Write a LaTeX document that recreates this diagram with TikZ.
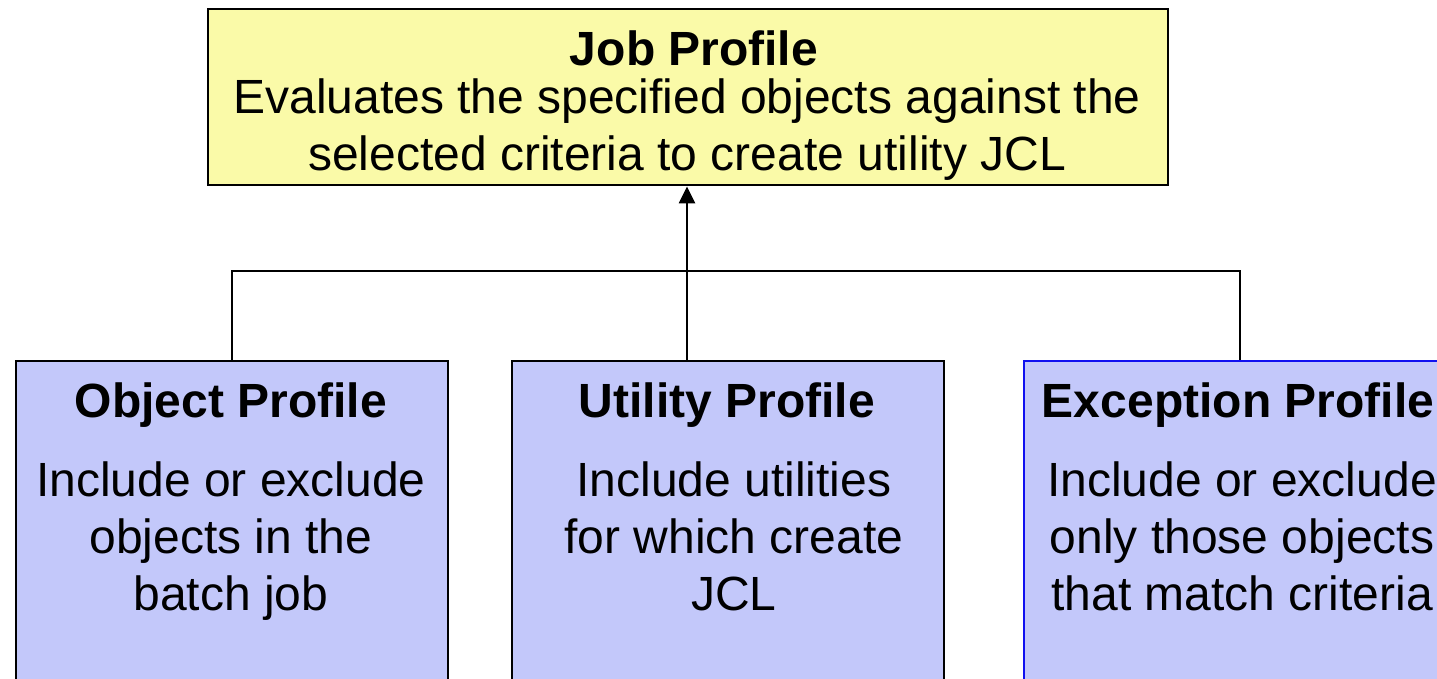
\documentclass[tikz,border=0pt]{standalone}
\usepackage{fontspec}
\setmainfont{Liberation Sans}
\usetikzlibrary{arrows.meta}
\definecolor{jobfill}{HTML}{FAFAA8}
\definecolor{profill}{HTML}{C3C8FA}
\definecolor{excborder}{HTML}{1010F0}
\tikzset{
  jobbox/.style={draw=black, line width=2.4pt, fill=jobfill, rectangle, anchor=north west, minimum width=960pt, minimum height=176pt, inner sep=0pt},
  probox/.style={draw=black, line width=2.4pt, fill=profill, rectangle, anchor=north west, minimum width=432pt, minimum height=400pt, inner sep=0pt},
  head/.style={anchor=base, font=\fontsize{48}{54}\selectfont\bfseries, inner sep=0pt},
  body/.style={anchor=base, font=\fontsize{48}{57}\selectfont, inner sep=0pt},
  conn/.style={draw=black, line width=2.4pt}
}
\begin{document}
\begin{tikzpicture}[x=1pt,y=-1pt]
\clip (0,0) rectangle (1437,678);
\useasboundingbox (0,0) rectangle (1437,678);
\fill[white] (0,0) rectangle (1437,678);
\node[jobbox] (job) at (207,8) {};
\node[probox] (obj) at (15,360) {};
\node[probox] (util) at (511,360) {};
\node[probox, draw=excborder] (exc) at (1023,360) {};
% texts
\node[head] (jobt) at (694,65) {Job Profile};
\node[body] (jobl1) at (687,113) {Evaluates the specified objects against the};
\node[body] (jobl2) at (687,170) {selected criteria to create utility JCL};
\node[head] (objt) at (231,417) {Object Profile};
\node[body] (objl1) at (231,496) {Include or exclude};
\node[body] (objl2) at (231,553) {objects in the};
\node[body] (objl3) at (231,610) {batch job};
\node[head] (utilt) at (727,417) {Utility Profile};
\node[body] (utill1) at (734,496) {Include utilities};
\node[body] (utill2) at (734,553) {for which create};
\node[body] (utill3) at (734,610) {JCL};
\node[head] (exct) at (1238,417) {Exception Profile};
\node[body] (excl1) at (1242,496) {Include or exclude};
\node[body] (excl2) at (1242,553) {only those objects};
\node[body] (excl3) at (1242,610) {that match criteria};
% connectors
\coordinate (bar) at (687,271);
\coordinate (ufoot) at (687,360);
\draw[conn] (obj.north) |- (bar) -| (exc.north);
\draw[conn, -{Triangle[width=16pt,length=17pt]}] (ufoot) -- (job.south -| ufoot);
\end{tikzpicture}
\end{document}
